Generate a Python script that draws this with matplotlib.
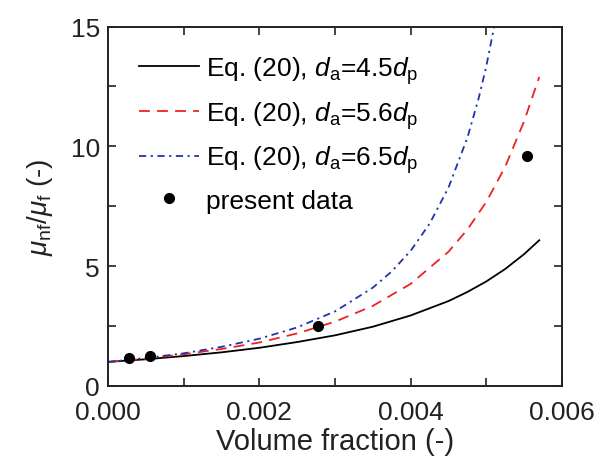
import matplotlib
matplotlib.use("Agg")
import matplotlib.pyplot as plt
from matplotlib.ticker import MultipleLocator, FormatStrFormatter

plt.rcParams['font.family'] = ['Liberation Sans', 'DejaVu Sans']
plt.rcParams['mathtext.fontset'] = 'custom'
plt.rcParams['mathtext.rm'] = 'Liberation Sans'
plt.rcParams['mathtext.it'] = 'Liberation Sans:italic'

# curve values
phi45 = [0, 0.0005, 0.001, 0.0015, 0.002, 0.0025, 0.003, 0.0035, 0.004, 0.0045, 0.00475, 0.005, 0.00525, 0.0055, 0.0057]
mu45 = [1.0, 1.11, 1.245, 1.40, 1.59, 1.83, 2.11, 2.47, 2.94, 3.54, 3.92, 4.36, 4.88, 5.50, 6.08]

phi56 = [0, 0.0005, 0.001, 0.0015, 0.002, 0.0025, 0.003, 0.0035, 0.004, 0.0045, 0.00475, 0.005, 0.00525, 0.0055, 0.0057]
mu56 = [1.0, 1.14, 1.32, 1.54, 1.81, 2.19, 2.68, 3.34, 4.26, 5.6, 6.53, 7.68, 9.15, 11.05, 12.9]

phi65 = [0, 0.0005, 0.001, 0.0015, 0.002, 0.0025, 0.003, 0.0035, 0.00375, 0.004, 0.00425, 0.0045, 0.00475, 0.0049, 0.005, 0.0051, 0.0052]
mu65 = [1.0, 1.16, 1.36, 1.63, 1.97, 2.44, 3.11, 4.10, 4.78, 5.64, 6.77, 8.28, 10.36, 12.02, 13.35, 14.93, 16.8]

# measured points
phi_data = [0.00028, 0.00055, 0.00278, 0.00554]
mu_data = [1.17, 1.23, 2.52, 9.6]

fig = plt.figure(figsize=(6.01, 4.60), dpi=100)
ax = fig.add_axes([0.18, 0.159, 0.755, 0.781])

ax.plot(phi45, mu45, color='black', lw=1.3, label=r'Eq. (20), $d_{\rm a}$=4.5$d_{\rm p}$')
ax.plot(phi56, mu56, color='#ee2222', lw=1.3, dashes=(6, 4),
        label=r'Eq. (20), $d_{\rm a}$=5.6$d_{\rm p}$')
ax.plot(phi65, mu65, color='#2233aa', lw=1.3, dashes=(4, 2.5, 1.2, 2.5),
        label=r'Eq. (20), $d_{\rm a}$=6.5$d_{\rm p}$')
ax.plot(phi_data, mu_data, 'o', color='black', ms=7, label='present data')

ax.set_xlim(0, 0.006)
ax.set_ylim(0, 15)
ax.xaxis.set_major_locator(MultipleLocator(0.002))
ax.xaxis.set_minor_locator(MultipleLocator(0.001))
ax.yaxis.set_major_locator(MultipleLocator(5))
ax.yaxis.set_minor_locator(MultipleLocator(2.5))
ax.xaxis.set_major_formatter(FormatStrFormatter('%.3f'))
ax.tick_params(which='both', direction='in', top=True, right=True, length=6, width=1.2,
               labelsize=19, colors='#222222')
ax.tick_params(axis='x', pad=10)
ax.tick_params(axis='y', pad=6)
for s in ax.spines.values():
    s.set_linewidth(1.4)
    s.set_color('#222222')

ax.set_xlabel('Volume fraction (-)', fontsize=21, color='#222222', labelpad=2)
ax.set_ylabel(r'$\mu_{\rm nf}/\mu_{\rm f}$ (-)', fontsize=20, color='#222222', labelpad=11)

ax.legend(loc='upper left', frameon=False, fontsize=19, handlelength=2.3,
          labelspacing=0.5, borderaxespad=0.5, handletextpad=0.25,
          bbox_to_anchor=(0.015, 0.99))

fig.savefig('out.png', dpi=100)
